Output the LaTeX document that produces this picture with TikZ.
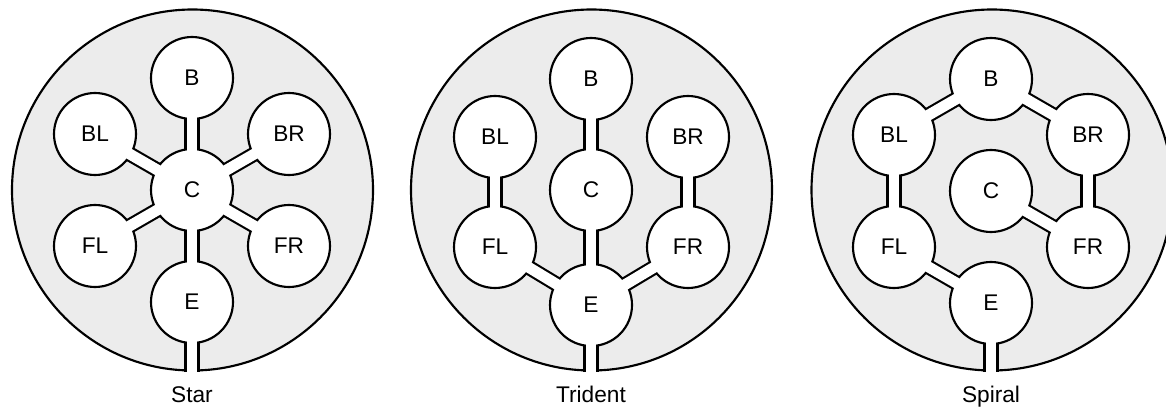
\documentclass[tikz,border=0pt]{standalone}
\usepackage{fontspec}
\setmainfont{Liberation Sans}
\pgfdeclarelayer{hallayer}
\pgfdeclarelayer{walllayer}
\pgfsetlayers{hallayer,walllayer,main}
\definecolor{floorgray}{RGB}{236,236,236}
\tikzset{
  hall/.style={circle, draw=black, line width=1.6pt, fill=floorgray,
    minimum size=270.75pt, inner sep=0pt},
  room/.style={circle, draw=black, line width=1.6pt, fill=white,
    minimum size=61.5pt, inner sep=0pt, font=\fontsize{17}{19}\selectfont},
  wall/.style={line width=11.35pt, draw=black, line cap=butt},
  floor/.style={line width=8.15pt, draw=white, line cap=butt,
    shorten <=27.75pt, shorten >=27.75pt},
  exitfloor/.style={line width=8.15pt, draw=white, line cap=butt,
    shorten <=27.75pt},
  caption/.style={anchor=base, font=\fontsize{17}{19}\selectfont},
}
\begin{document}
\begin{tikzpicture}[x=0.75pt, y=-0.75pt]
\useasboundingbox (0,0) rectangle (1166,410);

% ---------- Star ----------
\begin{pgfonlayer}{hallayer}
  \node[hall] (stH) at (192.5,190) {};
\end{pgfonlayer}
\node[room] (stB)  at (192,78)  {B};
\node[room] (stBL) at (95,134)  {BL};
\node[room] (stBR) at (289,134) {BR};
\node[room] (stC)  at (192,190) {C};
\node[room] (stFL) at (95,246)  {FL};
\node[room] (stFR) at (289,246) {FR};
\node[room] (stE)  at (192,302) {E};
\coordinate (stW) at (stE.center |- stH.south);
\path (stW) ++(0,3) coordinate (stX);
\begin{pgfonlayer}{walllayer}
  \foreach \p in {stB,stBL,stBR,stFL,stFR,stE}
    \draw[wall] (stC.center) -- (\p.center);
  \draw[wall] (stE.center) -- (stW);
\end{pgfonlayer}
\foreach \p in {stB,stBL,stBR,stFL,stFR,stE}
  \draw[floor] (stC.center) -- (\p.center);
\draw[exitfloor] (stE.center) -- (stX);
\node[caption] (stT) at (192,402) {Star};

% ---------- Trident ----------
\begin{pgfonlayer}{hallayer}
  \node[hall] (trH) at (591.5,190) {};
\end{pgfonlayer}
\node[room] (trB)  at (591,79)  {B};
\node[room] (trBL) at (495,137) {BL};
\node[room] (trBR) at (688,137) {BR};
\node[room] (trC)  at (591,190) {C};
\node[room] (trFL) at (495,247) {FL};
\node[room] (trFR) at (688,247) {FR};
\node[room] (trE)  at (591,305) {E};
\coordinate (trW) at (trE.center |- trH.south);
\path (trW) ++(0,3) coordinate (trX);
\begin{pgfonlayer}{walllayer}
  \foreach \a/\b in {trB/trC, trC/trE, trBL/trFL, trFL/trE, trBR/trFR, trFR/trE}
    \draw[wall] (\a.center) -- (\b.center);
  \draw[wall] (trE.center) -- (trW);
\end{pgfonlayer}
\foreach \a/\b in {trB/trC, trC/trE, trBL/trFL, trFL/trE, trBR/trFR, trFR/trE}
  \draw[floor] (\a.center) -- (\b.center);
\draw[exitfloor] (trE.center) -- (trX);
\node[caption] (trT) at (591,402) {Trident};

% ---------- Spiral ----------
\begin{pgfonlayer}{hallayer}
  \node[hall] (spH) at (992,190) {};
\end{pgfonlayer}
\node[room] (spB)  at (991,79)  {B};
\node[room] (spBL) at (894,135) {BL};
\node[room] (spBR) at (1088,135) {BR};
\node[room] (spC)  at (991,191) {C};
\node[room] (spFL) at (894,247) {FL};
\node[room] (spFR) at (1088,247) {FR};
\node[room] (spE)  at (991,303) {E};
\coordinate (spW) at (spE.center |- spH.south);
\path (spW) ++(0,3) coordinate (spX);
\begin{pgfonlayer}{walllayer}
  \foreach \a/\b in {spBL/spB, spB/spBR, spBR/spFR, spFR/spC, spBL/spFL, spFL/spE}
    \draw[wall] (\a.center) -- (\b.center);
  \draw[wall] (spE.center) -- (spW);
\end{pgfonlayer}
\foreach \a/\b in {spBL/spB, spB/spBR, spBR/spFR, spFR/spC, spBL/spFL, spFL/spE}
  \draw[floor] (\a.center) -- (\b.center);
\draw[exitfloor] (spE.center) -- (spX);
\node[caption] (spT) at (991,402) {Spiral};
\end{tikzpicture}
\end{document}
